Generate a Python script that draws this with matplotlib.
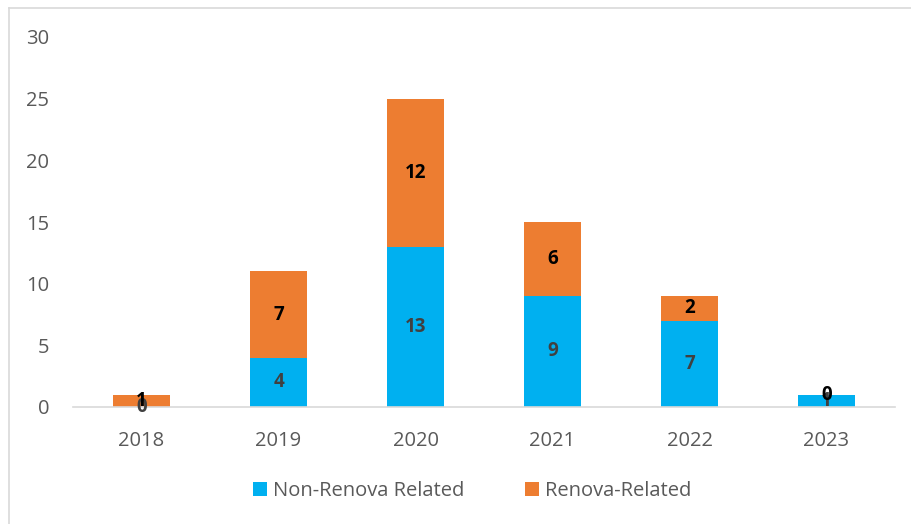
import matplotlib
matplotlib.use("Agg")
import matplotlib.pyplot as plt
from matplotlib.lines import Line2D
import numpy as np

years = ["2018", "2019", "2020", "2021", "2022", "2023"]
non_renova = [0, 4, 13, 9, 7, 1]
renova = [1, 7, 12, 6, 2, 0]
yticks = [0, 5, 10, 15, 20, 25, 30]

BLUE = "#00B0F0"
ORANGE = "#ED7D31"

plt.rcParams['font.family'] = ['Open Sans', 'DejaVu Sans']

W, H = 911, 524
fig = plt.figure(figsize=(W/100, H/100), dpi=100)
ax = fig.add_axes([73/W, 1-407/H, (895-73)/W, (407-37)/H])

x = np.arange(len(years))
bw = 0.41
ax.bar(x, non_renova, bw, color=BLUE, label="Non-Renova Related", zorder=2)
ax.bar(x, renova, bw, bottom=non_renova, color=ORANGE, label="Renova-Related", zorder=2)

for i in range(len(years)):
    ax.text(x[i], non_renova[i]/2, str(non_renova[i]), ha='center', va='center',
            fontsize=13.5, fontweight='bold', color='#404040', zorder=3)
    ax.text(x[i], non_renova[i] + renova[i]/2, str(renova[i]), ha='center', va='center',
            fontsize=13.5, fontweight='bold', color='black', zorder=3)

ax.set_xlim(-0.5, len(years)-0.5)
ax.set_ylim(0, 30)
ax.set_yticks(yticks)
ax.set_xticks(x)
ax.set_xticklabels(years)
for s in ['top', 'right', 'left']:
    ax.spines[s].set_visible(False)
ax.spines['bottom'].set_color('#d9d9d9')
ax.spines['bottom'].set_linewidth(1.2)
ax.tick_params(axis='both', length=0, labelsize=14.5, colors='#595959')
ax.tick_params(axis='y', pad=17)
ax.tick_params(axis='x', pad=17)

leg = fig.legend(loc='center', bbox_to_anchor=(472/W, 1-491/H), ncol=2, frameon=False,
                 fontsize=14.5, handlelength=0.7, handleheight=0.7, handletextpad=0.3,
                 columnspacing=3.0)
for t in leg.get_texts():
    t.set_color('#595959')

fig.add_artist(Line2D([9/W, 9/W], [0, 1-8/H], transform=fig.transFigure, color='#d9d9d9', lw=1.2))
fig.add_artist(Line2D([9/W, 1], [1-8/H, 1-8/H], transform=fig.transFigure, color='#d9d9d9', lw=1.2))

fig.savefig("out.png", dpi=100)
